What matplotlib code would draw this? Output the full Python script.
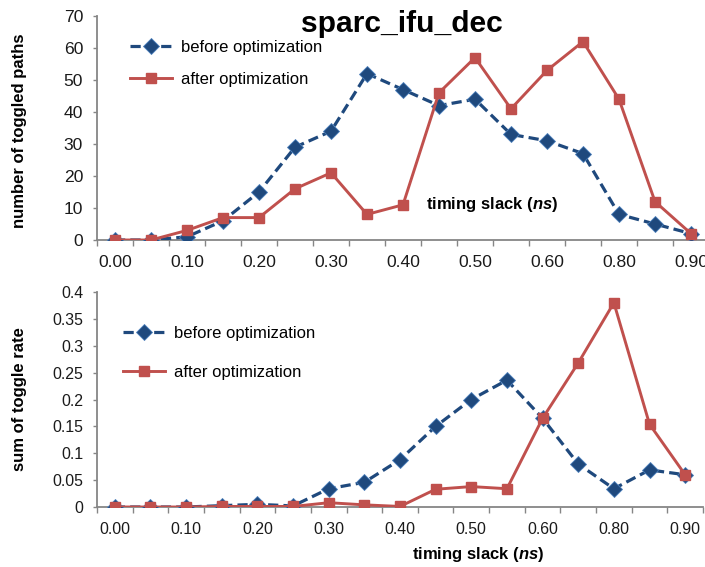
import matplotlib
matplotlib.use("Agg")
import matplotlib.pyplot as plt

plt.rcParams['font.family'] = ['Liberation Sans', 'DejaVu Sans']
plt.rcParams['mathtext.fontset'] = 'custom'
plt.rcParams['mathtext.it'] = 'Liberation Sans:bold:italic'
plt.rcParams['mathtext.rm'] = 'Liberation Sans:bold'

# timing slack buckets (ns); every other bucket is labelled on the axis
slack = ["0.00", "0.05", "0.10", "0.15", "0.20", "0.25", "0.30", "0.35", "0.40",
         "0.45", "0.50", "0.55", "0.60", "0.70", "0.80", "0.85", "0.90"]
shown_labels = ["0.00", "0.10", "0.20", "0.30", "0.40", "0.50", "0.60", "0.80", "0.90"]

paths_before = [0, 0, 1, 6, 15, 29, 34, 52, 47, 42, 44, 33, 31, 27, 8, 5, 2]
paths_after = [0, 0, 3, 7, 7, 16, 21, 8, 11, 46, 57, 41, 53, 62, 44, 12, 2]

rate_before = [0, 0, 0, 0.0025, 0.005, 0.002, 0.034, 0.046, 0.088, 0.15, 0.2,
               0.236, 0.165, 0.08, 0.034, 0.069, 0.06]
rate_after = [0, 0, 0, 0.001, 0.001, 0.001, 0.008, 0.004, 0.001, 0.033, 0.038,
              0.034, 0.165, 0.268, 0.38, 0.154, 0.06]

BLUE = "#1F497D"
BLUE_EDGE = "#4A7EBB"
RED = "#C0504D"
AXIS = "#868686"

W, H = 705, 567
fig = plt.figure(figsize=(W / 100, H / 100), dpi=100)

def px_axes(left, right, top, bottom):
    return fig.add_axes([left / W, (H - bottom) / H, (right - left) / W, (bottom - top) / H])

ax1 = px_axes(97, 709, 16, 240)
ax2 = px_axes(97, 703, 292, 507)

x = list(range(len(slack)))
label_pos = [slack.index(s) for s in shown_labels]


def draw(ax, before, after, tick_fs):
    ax.plot(x, before, color=BLUE, lw=2.3, dashes=(3.2, 1.6), marker='D', ms=8,
            mfc=BLUE, mec=BLUE_EDGE, mew=0.6, label="before optimization", zorder=3)
    ax.plot(x, after, color=RED, lw=2.1, marker='s', ms=6.5,
            mfc=RED, mec=RED, label="after optimization", zorder=4)
    ax.set_xlim(-0.5, len(slack) - 0.5)
    for side in ("top", "right"):
        ax.spines[side].set_visible(False)
    for side in ("left", "bottom"):
        ax.spines[side].set_color(AXIS)
        ax.spines[side].set_linewidth(1.3)
    ax.set_xticks(label_pos)
    ax.set_xticklabels(shown_labels)
    ax.set_xticks([i - 0.5 for i in range(len(slack) + 1)], minor=True)
    ax.tick_params(axis='x', which='major', length=0, pad=11, labelsize=tick_fs,
                   labelcolor="#1a1a1a")
    ax.tick_params(axis='x', which='minor', length=4, width=1, color=AXIS,
                   direction='out')
    ax.tick_params(axis='y', length=3, width=1, color=AXIS, pad=7,
                   labelsize=tick_fs, labelcolor="#1a1a1a")


draw(ax1, paths_before, paths_after, 12.6)
ax1.set_ylim(0, 70)
ax1.set_yticks(range(0, 71, 10))

draw(ax2, rate_before, rate_after, 11.4)
ax2.set_ylim(0, 0.4)
ax2.set_yticks([0, 0.05, 0.1, 0.15, 0.2, 0.25, 0.3, 0.35, 0.4])
ax2.set_yticklabels(["0", "0.05", "0.1", "0.15", "0.2", "0.25", "0.3", "0.35", "0.4"])

leg1 = ax1.legend(loc='upper left', bbox_to_anchor=((130 - 97) / 612, (240 - 40) / 224),
                  frameon=False, fontsize=12, handlelength=2.5, handletextpad=0.55,
                  labelspacing=1.02, numpoints=1, borderaxespad=0, borderpad=0)
leg2 = ax2.legend(loc='upper left', bbox_to_anchor=((123 - 97) / 606, (507 - 326) / 215),
                  frameon=False, fontsize=12, handlelength=2.5, handletextpad=0.55,
                  labelspacing=1.42, numpoints=1, borderaxespad=0, borderpad=0)

fig.text(402 / W, (H - 32) / H, "sparc_ifu_dec", ha='center', va='baseline',
         fontsize=21.6, fontweight='bold')

ax1.text((492 - 97) / 612, (240 - 205) / 224, r"timing slack ($\mathit{ns}$)",
         transform=ax1.transAxes, ha='center', va='center', fontsize=12,
         fontweight='bold')
fig.text(478 / W, (H - 554) / H, r"timing slack ($\mathit{ns}$)", ha='center',
         va='center', fontsize=12, fontweight='bold')

fig.text(20 / W, (H - 131) / H, "number of toggled paths", rotation=90,
         ha='center', va='center', fontsize=12, fontweight='bold')
fig.text(20 / W, (H - 399) / H, "sum of toggle rate", rotation=90,
         ha='center', va='center', fontsize=12, fontweight='bold')

fig.savefig("out.png", dpi=100)
